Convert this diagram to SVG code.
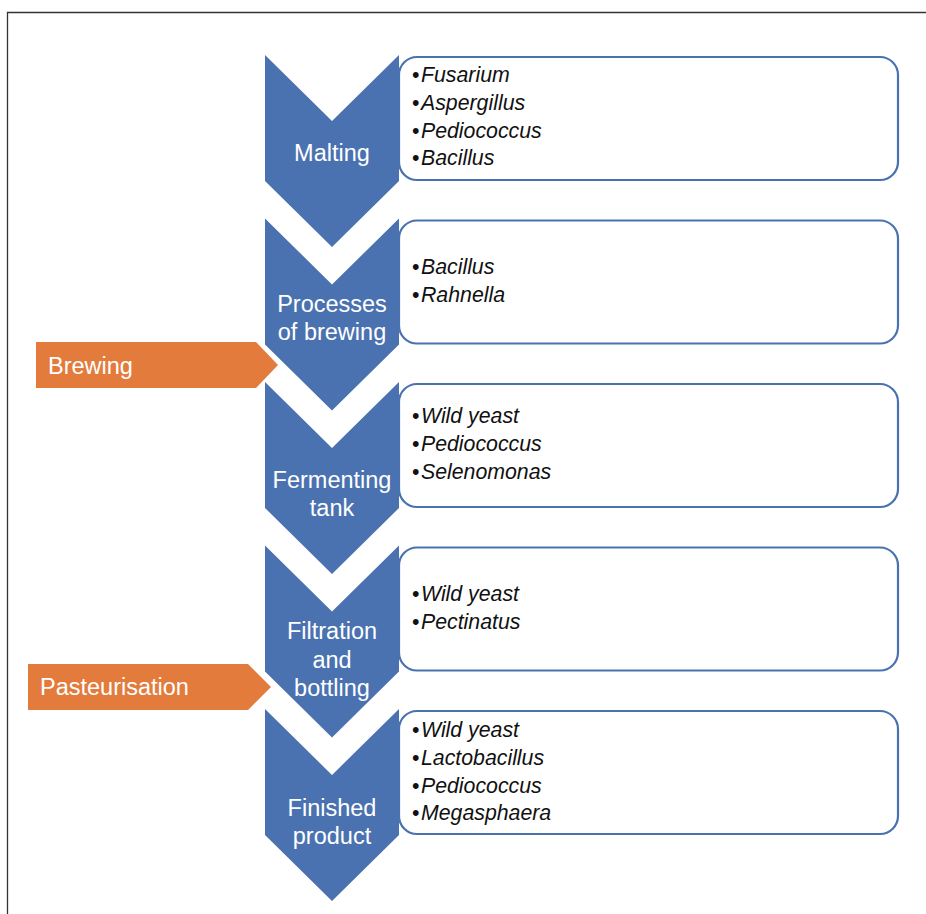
<svg xmlns="http://www.w3.org/2000/svg" width="926" height="914" viewBox="0 0 926 914">
<style>
.chev{fill:#4a72b0;}
.box{fill:#fff;stroke:#4a72b0;stroke-width:2.2;}
.arr{fill:#e27b3b;}
.lbl{font-family:"Liberation Sans",Arial,sans-serif;font-size:23.5px;fill:#fff;text-anchor:middle;}
.al{font-family:"Liberation Sans",Arial,sans-serif;font-size:23.5px;fill:#fff;}
.it{font-family:"Liberation Sans",Arial,sans-serif;font-size:21.3px;fill:#111;}
.it tspan.i{font-style:italic;}
</style>
<rect width="926" height="914" fill="#fff"/>
<path d="M7.5,914 L7.5,12.5 L926,12.5" fill="none" stroke="#333" stroke-width="1.3"/>

<g id="step1">
<rect class="box" x="399" y="57" width="499" height="123" rx="18"/>
<path class="chev" d="M265,55 L332,121 L399,55 L399,181 L332,247 L265,181 Z"/>
<text class="lbl" x="332" y="161">Malting</text>
<text class="it"><tspan x="412" y="82">•<tspan class="i" dx="1.5">Fusarium</tspan></tspan><tspan x="412" y="110">•<tspan class="i" dx="1.5">Aspergillus</tspan></tspan><tspan x="412" y="138">•<tspan class="i" dx="1.5">Pediococcus</tspan></tspan><tspan x="412" y="165">•<tspan class="i" dx="1.5">Bacillus</tspan></tspan></text>
</g>

<g id="step2">
<rect class="box" x="399" y="220.5" width="499" height="123" rx="18"/>
<path class="chev" d="M265,218.5 L332,284.5 L399,218.5 L399,344.5 L332,410.5 L265,344.5 Z"/>
<text class="lbl" x="332" y="312">Processes</text>
<text class="lbl" x="332" y="340">of brewing</text>
<text class="it"><tspan x="412" y="274">•<tspan class="i" dx="1.5">Bacillus</tspan></tspan><tspan x="412" y="302">•<tspan class="i" dx="1.5">Rahnella</tspan></tspan></text>
</g>

<g id="step3">
<rect class="box" x="399" y="384" width="499" height="123" rx="18"/>
<path class="chev" d="M265,382 L332,448 L399,382 L399,508 L332,574 L265,508 Z"/>
<text class="lbl" x="332" y="488">Fermenting</text>
<text class="lbl" x="332" y="516">tank</text>
<text class="it"><tspan x="412" y="423">•<tspan class="i" dx="1.5">Wild yeast</tspan></tspan><tspan x="412" y="451">•<tspan class="i" dx="1.5">Pediococcus</tspan></tspan><tspan x="412" y="479">•<tspan class="i" dx="1.5">Selenomonas</tspan></tspan></text>
</g>

<g id="step4">
<rect class="box" x="399" y="547.5" width="499" height="123" rx="18"/>
<path class="chev" d="M265,545.5 L332,611.5 L399,545.5 L399,671.5 L332,737.5 L265,671.5 Z"/>
<text class="lbl" x="332" y="639">Filtration</text>
<text class="lbl" x="332" y="668">and</text>
<text class="lbl" x="332" y="696">bottling</text>
<text class="it"><tspan x="412" y="601">•<tspan class="i" dx="1.5">Wild yeast</tspan></tspan><tspan x="412" y="629">•<tspan class="i" dx="1.5">Pectinatus</tspan></tspan></text>
</g>

<g id="step5">
<rect class="box" x="399" y="711" width="499" height="123" rx="18"/>
<path class="chev" d="M265,709 L332,775 L399,709 L399,835 L332,901 L265,835 Z"/>
<text class="lbl" x="332" y="816">Finished</text>
<text class="lbl" x="332" y="844">product</text>
<text class="it"><tspan x="412" y="737">•<tspan class="i" dx="1.5">Wild yeast</tspan></tspan><tspan x="412" y="765">•<tspan class="i" dx="1.5">Lactobacillus</tspan></tspan><tspan x="412" y="793">•<tspan class="i" dx="1.5">Pediococcus</tspan></tspan><tspan x="412" y="820">•<tspan class="i" dx="1.5">Megasphaera</tspan></tspan></text>
</g>

<g id="brewing">
<path class="arr" d="M36,342 L256,342 L278,365 L256,388 L36,388 Z"/>
<text class="al" x="48" y="374">Brewing</text>
</g>

<g id="pasteurisation">
<path class="arr" d="M28,664 L248,664 L271,687 L248,710 L28,710 Z"/>
<text class="al" x="40" y="695">Pasteurisation</text>
</g>

<g id="connectors"></g>
</svg>
